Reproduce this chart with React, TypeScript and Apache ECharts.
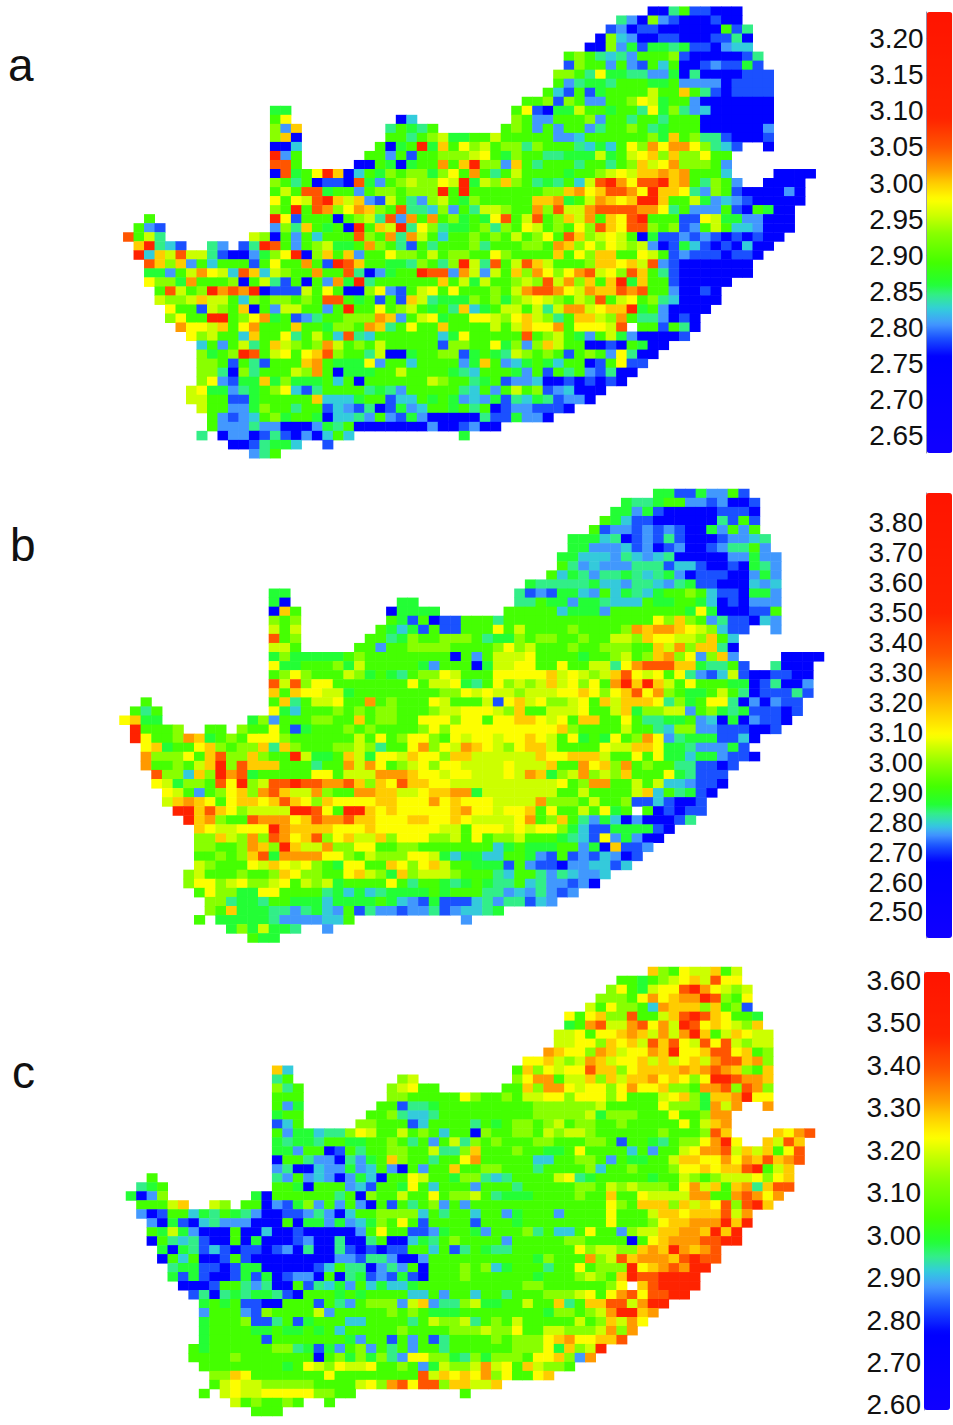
import React, { useEffect, useRef } from "react";
import * as echarts from "echarts";

// Each cell code stands for one colour band.
const CODE_ORDER = "0123456789abcd";
const CODE_COLORS = ["#0000ff", "#1a50ff", "#4499ff", "#33ccdd", "#33ee88", "#22ff33", "#44ff00", "#88ff00", "#ccff00", "#ffff00", "#ffcc00", "#ff9900", "#ff5500", "#ff2200"];

// Value of each code on each panel's colour bar.
const VALUES_A = [2.76, 2.785, 2.805, 2.825, 2.845, 2.86, 2.89, 2.93, 2.955, 2.977, 3.0, 3.018, 3.05, 3.09];
const VALUES_B = [2.665, 2.72, 2.76, 2.79, 2.83, 2.86, 2.92, 2.99, 3.05, 3.09, 3.17, 3.25, 3.36, 3.5];
const VALUES_C = [2.77, 2.83, 2.88, 2.915, 2.95, 2.985, 3.04, 3.13, 3.19, 3.23, 3.28, 3.32, 3.39, 3.47];

const TICKS_A = [2.65, 2.7, 2.75, 2.8, 2.85, 2.9, 2.95, 3.0, 3.05, 3.1, 3.15, 3.2];
const TICKS_B = [2.5, 2.6, 2.7, 2.8, 2.9, 3.0, 3.1, 3.2, 3.3, 3.4, 3.5, 3.6, 3.7, 3.8];
const TICKS_C = [2.6, 2.7, 2.8, 2.9, 3.0, 3.1, 3.2, 3.3, 3.4, 3.5, 3.6];

const LETTERS = ["a", "b", "c"];

// One string per map row: "startColumn:codes". "." is an empty cell; a block
// without a "col:" prefix simply continues after the previous block.
const ROWS_A = [
  "50:004611000",
  "47:420721000100",
  "46:12011000000614",
  "45:073200110001140",
  "44:0072515545110233",
  "42:6764342666710000014",
  "42:1766262163600121151",
  "41:776495544225040000111",
  "41:624554666556222201111",
  "40:6316156666866a64101111",
  "38:667176226679856620000000",
  "14:55 37:6910558665664957423000000",
  "14:69 26:03 37:7622666726646646660000000",
  "14:72a 25:46546 36:67626266246676456660000002",
  "14:7a0 25:664678556686666622366666675a674410001",
  "14:003 24:6056d5a6978677476664353697b9bb97431..0",
  "14:d26 23:662616677789657664455585689a7a77966",
  "14:cc6 22:00650566b6ad772a64666466467a89b77762",
  "14:0c569da036576775796b646866665667898aabab6663....0000",
  "14:76460110c526787798d587a76454638cdb9ccdab64762..0000",
  "14:686cc56626776777d6d666666677ab9accb9daa942761000020",
  "14:9698cda8a2186427865766666aab568ba9adda6685232100000",
  "14:76d6cb79ba76c443726488766b7c88bccccbb9462226106500",
  "2:6 14:d9166606784c2b6b675659c68c67a8b6a9cd66611985522000",
  "1:621 14:274a6560d6a8d497455674769867697ca9cc76712686332000",
  "0:c684 12:8706263666c76b4b86366767686796ca7898605112121010100",
  "1:ad431 8:42 11:14dc62678556b764164666 74666776ba7979878201531010300",
  "1:d3a8c8841002579d07a6a2669776867766976666a697aa66986121110110",
  "2:ca7a26366616966b61dca665547647d84c68ca86667aa9a8c210000000",
  "2:55268b983ca38766b66c402566dcc2b8286a7b979bc897ca6410000000",
  "2:9775b6667068416062b5d4666666a685866787c8b7a6ad5a66100000",
  "3:6c867dbcbd0111869600792168969666768bccb98baacbc6620010",
  "3:8778a88637677676cc656161a84555767578987687c68967430000",
  "4:9661876a062886626d6696786564a356886848bb89aad5620000",
  "4:7966dd679b5612466777ba268956699879a8746aa87b6442010",
  "5:b998a69b666a665776ba46966a6666868a99b69998c.661640",
  "6:978663a66946863c4366666635966666c678652685200001",
  "7:3626846a8767b86768666661776695727a86600106500",
  "7:7567dc68969ac7664800566771565487676167629400",
  "7:7761641666ab655592663666625a623565366016911",
  "7:77407466687b605556686666543666526164621400",
  "7:792155a5755563606666668766456122300101010",
  "6:8955245679 3146666454 2666664 3626867123000",
  "6:8866115666 66a3335661 3365652 325143541220",
  "7:8662257664 6613214015 236656 4601221110",
  "8:6212367566 5033426215 20000 04115220",
  "8:6222422000 2546000000 02001 200",
  "7:4 9:0220141020363 32:5",
  "10:0014553 19:1",
  "12:246",
];

const ROWS_B = [
  "50:551152261",
  "47:5445662212001",
  "46:55251000001110",
  "45:653110000004161",
  "44:6122121210052626",
  "42:5553401214100012234",
  "42:5522231201200124462",
  "41:553332432340000022522",
  "41:642322244413310010542",
  "40:6354244543452011100252",
  "38:544444533244324511000323",
  "14:55 37:4121553263543566763110552",
  "14:50 26:55 37:4465525543 3365566530 10222",
  "14:0a6 25:05555 36:66666355526666666 595 000 116",
  "14:767 25:6516011666 4 66666666666666 97a762411032",
  "14:868 24:6535161166 6968666676 6667babba9 87311 61:2",
  "14:c67 23:6645766777 6455767766 766887a998 87a63",
  "14:886 22:6626677776 6667978666 76677766a8 b7aa40",
  "14:5755555676 6666666062 6888966665 667867ab79 27a2 62:0000",
  "14:9556667586 6666526660 5889966966 8849bcccaa 54461 61:4000",
  "14:6797666875 6546779866 699999a898 78ac989694 21381001100",
  "14:c8c7996666 6669688954 697878a897 96bdada869 66655014002",
  "14:a6a9988566 6666667798 988788899a 979ac9b765 56864011141",
  "2:6 14:6a4688966b 6766698666 819a897789 6a8aaa9475 6994020211",
  "1:646 14:9536667676 7766678899 987a668889 668a577882 6754511101",
  "0:9a55 12:5726667766 a677669997 99699aa989 6aa6696445 56230502110",
  "1:d6667 8:66 11:7669615666 7676666797 9999999999 a766668664 37722111001",
  "1:d9667ba567 6999766666 6869679976 9899899a98 69565967b9 245551130",
  "2:9a5669a767 7a4a766677 874669b798 ba9879aa86 666988aa95 5422251",
  "2:b77796ac77 a766d8556a 85998a997a a888888a99 aaa8669695 53552110",
  "2:b66768ad7c aaa666466b 8b96789799 88889888a6 6b9a7b6766 441101",
  "3:c773a7dbc5 6666699688 8bbba99899 88898ba578 b787a66695 4111",
  "3:985776c9d7 8ccdccbbca 7a9caa9988 8888888896 7bb6686833 2110",
  "4:9862679a7b ca88b766bb aa889aabb5 8888888668 66668a3645 10",
  "4:8aba969aa9 aca97a9999 aa999b9a99 98888b7776 86671131001",
  "5:ddaca97888 8ddc96dda9 a99999ab99 899a696686 956.601011",
  "6:dab766cbbb 9acbbcaa99 9aa99a9888 89b67a6425 30200014",
  "7:a988999dba aaa999a999 9998869998 9899753115 55510",
  "7:77a87b7cb9 ac79a88a79 9977869677 86665431925200",
  "7:77667ba7da 88b7799667 7666666635 655566250a112",
  "7:66767ac5bb bb99768777 9985355336 652161213201",
  "7:8766698a98 97659966a9 79a8665551 62110223313",
  "6:786667667a 977669a875 a788876664 3664243223",
  "6:7997897789 6878566669 6466545654 463422120",
  "7:6977559966 6645353455 5565666442 324212",
  "8:7745546655 5355556532 1511134244 132",
  "8:76a5554424 5326142212 24123345",
  "7:6 9:5555542222336 32:2",
  "10:5758554 19:2",
  "12:655",
];

const ROWS_C = [
  "50:a76988a68",
  "47:6656789a8c99",
  "46:7965899cdb9878",
  "45:77769b9abbdc769",
  "44:8697763baaa7a671",
  "42:969a77c668acdca9665",
  "42:56bc88bc9b8dc9a987a",
  "41:889699aba8b8bda68a988",
  "41:88997a9a8cac98c9c8788",
  "40:ba997ba899 bad99acc9a 67",
  "38:99a878ba899a8a89a8bccab7",
  "14:a3 37:6a798 99caa 79aaa ababc ba76a",
  "14:46 26:78 37:79bb6 88a7a 8aab9 a979d dcbba",
  "14:746 25:78966 36:66a7b b9899 79b99 a776b bc7cb7",
  "14:666 25:7766666976 6768899799 97966689a7 5aabd99",
  "14:625 24:6614456666 6666677777 7866666977 75b8b 61:b",
  "14:566 23:6674334666 6666667777 7857776669667bb",
  "14:136 22:7766613666 6465677678 6776676666 6968ab",
  "14:6255344798 6686763660 7667768788 7666666766 67ca 62:a9bc",
  "14:5455466556 6764626847 6766677666 7761665467 79bd9 61:a8ca",
  "14:5526601646 677668447a 6667665569 6666362668 9bbc8a8a69c",
  "14:0664220425 6a7664669b 6666633667 762655668a a99b9bacabc",
  "14:2400322523 6206266a66 7766646666 7366766679 9a9aacd68a",
  "2:6 14:4262320253 0669866577 4346666894 5666665668 767888979a",
  "1:456 14:6650666231 6659636662 6664666667 7687877769 b8a6ab4acc",
  "0:5027 12:5066666646 0766866967 7864555666 6766a66988 88bb66bcb9b",
  "1:6668a 8:87 11:6602157262 6206164672 6266666666 66666976aa a7a8a9c7cda",
  "1:2016635465 4200112420 3667777364 6636625666 2666696668 aa9aaac8b",
  "2:2051034222 0006055252 3576961666 6166656666 6666966679 aabbbdad",
  "2:6585200060 0300100000 2696611256 6526667463 369662788a abbadad",
  "2:0643410060 5000120040 0460035467 6666266666 776666069a bbbccdd",
  "3:5054131011 0120400410 1011663614 6544666666 978877abad babc",
  "3:0636001610 0000000221 4420026666 6666665766 6b78cabbba cdcc",
  "4:4551101550 0000136440 2426066676 7356664669 6777d9abcb dd",
  "4:5151001515 0122060451 2151066676 6666656667 876adccdddd",
  "5:0001664240 0614352635 3356666666 6667766666 679.acdddd",
  "6:1404545541 0666565666 6336266366 4666777896 9bc9ccdd",
  "7:5656110066 6164267772 8a24478556 6866a46aac c8bdd",
  "7:2666217666 6826666676 7655566666 666577678b ddab",
  "7:5666711461 5666336666 4687784676 866666867a 8b9",
  "7:5666655655 6563666667 6666777877 966887778b 7b",
  "7:5666661666 6666526616 2614666676 7779ab99aa c",
  "6:6566666677 4515267264 6266466666 677795a78d",
  "6:6666766666 6606757574 2997754757 77699a72b",
  "7:6666666656 9879889667 6258778b89 6a8776",
  "8:77a9666666 6966666666 c8a9a9b796 69a",
  "8:6898877777 6666897bc9 cc7aa88a",
  "7:6 9:8988999997766 32:6",
  "10:8676676 19:6",
  "12:666",
];

const COLS = Array.from({ length: 66 }, (_, i) => String(i));
const LINES = Array.from({ length: 50 }, (_, i) => String(i));

function cells(rows: string[], values: number[]) {
  const out: number[][] = [];
  rows.forEach((row, y) => {
    let col = 0;
    row.split(" ").forEach((seg) => {
      const parts = seg.split(":");
      const codes = parts.length > 1 ? parts[1] : parts[0];
      if (parts.length > 1) col = Number(parts[0]);
      for (const c of codes) {
        const k = CODE_ORDER.indexOf(c);
        if (k >= 0) out.push([col, y, values[k]]);
        col++;
      }
    });
  });
  return out;
}

function hexRgb(h: string) {
  return [1, 3, 5].map((i) => parseInt(h.slice(i, i + 2), 16));
}

function ramp(values: number[], lo: number, hi: number) {
  const vs = [lo, ...values, hi];
  const cs = ["#1000ff", ...CODE_COLORS, "#ff1400"].map(hexRgb);
  const out: string[] = [];
  const n = 160;
  for (let i = 0; i <= n; i++) {
    const v = lo + ((hi - lo) * i) / n;
    let j = 0;
    while (j < vs.length - 2 && v > vs[j + 1]) j++;
    const t = Math.min(1, Math.max(0, (v - vs[j]) / (vs[j + 1] - vs[j])));
    const c = cs[j].map((a, q) => Math.round(a + (cs[j + 1][q] - a) * t));
    out.push(`rgb(${c[0]},${c[1]},${c[2]})`);
  }
  return out;
}

const PANELS = [
  { rows: ROWS_A, values: VALUES_A, ticks: TICKS_A, lo: 2.626, hi: 3.237, map: [123.3, 6.7, 692.4, 451.5], bar: [926.7, 12, 25.6, 441], margin: 3, letter: [8, 42] },
  { rows: ROWS_B, values: VALUES_B, ticks: TICKS_B, lo: 2.413, hi: 3.9, map: [119.5, 489, 704.5, 453.5], bar: [926, 493, 26, 445], margin: 3, letter: [10, 522] },
  { rows: ROWS_C, values: VALUES_C, ticks: TICKS_C, lo: 2.588, hi: 3.62, map: [126, 967, 689, 449], bar: [924, 972, 26, 438], margin: 3, letter: [12, 1049] },
];

export default function App() {
  const ref = useRef<HTMLDivElement>(null);
  useEffect(() => {
    const chart = echarts.init(ref.current!, undefined, { renderer: "svg" });
    const grid: any[] = [];
    const xAxis: any[] = [];
    const yAxis: any[] = [];
    const series: any[] = [];
    const visualMap: any[] = [];
    const graphic: any[] = [];
    PANELS.forEach((p, i) => {
      grid.push({ left: p.map[0], top: p.map[1], width: p.map[2], height: p.map[3] });
      xAxis.push({ type: "category", data: COLS, gridIndex: i, show: false });
      yAxis.push({ type: "category", data: LINES, gridIndex: i, show: false, inverse: true });
      series.push({
        type: "heatmap",
        xAxisIndex: i,
        yAxisIndex: i,
        data: cells(p.rows, p.values),
        silent: true,
        progressive: 0,
        itemStyle: { borderWidth: 0 },
        emphasis: { disabled: true },
      });
      visualMap.push({
        type: "continuous",
        seriesIndex: i,
        dimension: 2,
        min: p.lo,
        max: p.hi,
        calculable: false,
        hoverLink: false,
        show: true,
        left: p.bar[0],
        top: p.bar[1],
        itemWidth: p.bar[2],
        itemHeight: p.bar[3],
        padding: 0,
        textGap: 0,
        inRange: { color: ramp(p.values, p.lo, p.hi) },
      });
      graphic.push({
        type: "text",
        left: p.letter[0],
        top: p.letter[1],
        style: { text: LETTERS[i], font: "46px 'Liberation Sans'", fill: "#111111" },
      });
    });
    PANELS.forEach((p, i) => {
      const gi = 3 + i;
      grid.push({ left: p.bar[0], top: p.bar[1], width: p.bar[2], height: p.bar[3] });
      xAxis.push({ type: "value", gridIndex: gi, show: false, min: 0, max: 1 });
      yAxis.push({
        type: "value",
        gridIndex: gi,
        min: p.lo,
        max: p.hi,
        position: "left",
        splitLine: { show: false },
        axisLine: { show: true, lineStyle: { color: "#8f8fb0", width: 1 } },
        axisTick: { show: true, inside: true, length: 2, customValues: p.ticks, lineStyle: { color: "#777799" } },
        minorTick: { show: false },
        axisLabel: {
          show: true,
          customValues: p.ticks,
          margin: p.margin,
          formatter: (v: number) => v.toFixed(2),
          fontFamily: "'Liberation Sans'",
          fontSize: 28,
          color: "#111111",
        },
      });
    });
    chart.setOption({
      animation: false,
      backgroundColor: "#ffffff",
      tooltip: { show: false },
      grid,
      xAxis,
      yAxis,
      series,
      visualMap,
      graphic,
    });
    return () => chart.dispose();
  }, []);
  return <div ref={ref} style={{ position: "absolute", left: 0, top: 0, width: 953, height: 1425 }} />;
}
